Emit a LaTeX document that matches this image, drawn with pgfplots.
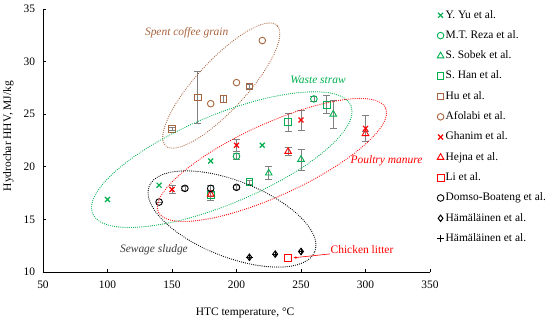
\documentclass[border=0pt]{standalone}
\usepackage{pgfplots}
\pgfplotsset{compat=1.18}
\usepackage{fontspec}
\setmainfont{Liberation Serif}
\usetikzlibrary{arrows.meta}
\definecolor{cgreen}{RGB}{0,176,80}
\definecolor{cbrown}{RGB}{168,100,60}
\definecolor{cred}{RGB}{255,0,0}
\definecolor{cgray}{RGB}{128,128,128}
\definecolor{cdark}{RGB}{60,60,60}
\pgfplotsset{
  leg/.style={legend image code/.code={\draw[##1] plot coordinates {(0bp,0bp)};}},
  eb/.style={error bars/.cd, y dir=both, y explicit, error mark=|,
    error bar style={cgray, line width=0.8bp, solid},
    error mark options={cgray, mark size=3.5bp, line width=0.8bp, solid}},
}
\tikzset{ell/.style={line width=1.2bp, line cap=round, dash pattern=on 0bp off 2.1bp}}
\begin{document}
\begin{tikzpicture}
\useasboundingbox (-43bp,-60bp) rectangle (507bp,272bp);
\begin{axis}[
  at={(0,0)}, anchor=south west,
  scale only axis, width=387bp, height=263bp,
  xmin=50, xmax=350, ymin=10, ymax=35,
  xtick={50,100,...,350}, ytick={10,15,...,35},
  axis x line*=bottom, axis y line*=left,
  tick align=inside, major tick length=3bp,
  axis line style={line width=0.8bp},
  tick style={line width=0.8bp, black},
  font=\fontsize{11.5}{13}\selectfont,
  /pgf/number format/assume math mode=true,
  xticklabel style={yshift=-5.6bp},
  yticklabel style={xshift=-4.5bp},
  xlabel={HTC temperature, °C},
  ylabel={Hydrochar HHV, MJ/kg},
  xlabel style={at={(axis description cs:0.522,-0.157)}, anchor=center},
  ylabel style={at={(axis description cs:-0.0897,0.517)}, anchor=center},
  clip=false,
  legend cell align=left,
  legend style={draw=none, fill=none, inner sep=0pt, outer sep=0pt,
    at={(axis description cs:1.018,0.996)}, anchor=north west,
    row sep=9.8bp, column sep=1.5bp,
    nodes={inner sep=0pt, text height=8bp, text depth=2.5bp},
    font=\fontsize{11.5}{13}\selectfont},
]
% Y. Yu
\addplot[only marks, leg, mark=x, mark size=3.5bp, cgreen, line width=1.2bp]
  coordinates {(100,16.9) (140,18.25) (180,20.55) (220,22.05)};
\addlegendentry{Y. Yu et al.}
% M.T. Reza
\addplot[only marks, leg, mark=o, mark size=3.3bp, cgreen, line width=0.9bp, eb]
  coordinates {(200,21.0) +- (0,0.3) (260,26.45) +- (0,0.2)};
\addlegendentry{M.T. Reza et al.}
% S. Sobek
\addplot[only marks, leg, mark=triangle, mark size=3.8bp, cgreen, line width=0.9bp, eb]
  coordinates {(225,19.4) +- (0,0.6) (250,20.7) +- (0,1.0) (275,25.0) +- (0,1.35)};
\addlegendentry{S. Sobek et al.}
% S. Han
\addplot[only marks, leg, mark=square, mark size=3.3bp, cgreen, line width=0.9bp, eb]
  coordinates {(180,17.3) +- (0,0.5) (210,18.55) +- (0,0.2) (240,24.25) +- (0,0.85) (270,25.9) +- (0,0.85)};
\addlegendentry{S. Han et al.}
% Hu
\addplot[only marks, leg, mark=square, mark size=3.3bp, cbrown, line width=0.9bp, eb]
  coordinates {(150,23.6) +- (0,0.15) (170,26.6) +- (0,2.5) (190,26.45) +- (0,0.3) (210,27.65) +- (0,0.2)};
\addlegendentry{Hu et al.}
% Afolabi
\addplot[only marks, leg, mark=o, mark size=3.3bp, cbrown, line width=0.9bp]
  coordinates {(180,26.0) (200,28.0) (220,32.0)};
\addlegendentry{Afolabi et al.}
% Ghanim
\addplot[only marks, leg, mark=x, mark size=3.5bp, cred, line width=1.2bp, eb]
  coordinates {(150,17.85) +- (0,0.35) (200,22.05) +- (0,0.55) (250,24.45) +- (0,0.95) (300,23.65) +- (0,1.25)};
\addlegendentry{Ghanim et al.}
% Hejna
\addplot[only marks, leg, mark=triangle, mark size=3.8bp, cred, line width=0.9bp, eb]
  coordinates {(180,17.4) +- (0,0.2) (240,21.45) +- (0,0.35) (300,23.15) +- (0,0.2)};
\addlegendentry{Hejna et al.}
% Li
\addplot[only marks, leg, mark=square, mark size=3.6bp, cred, line width=0.9bp]
  coordinates {(240,11.35)};
\addlegendentry{Li et al.}
% Domso-Boateng
\addplot[only marks, leg, mark=o, mark size=3.3bp, black, line width=0.9bp, eb]
  coordinates {(140,16.65) +- (0,0) (160,17.95) +- (0,0.2) (180,17.95) +- (0,0.25) (200,18.05) +- (0,0.2)};
\addlegendentry{Domso-Boateng et al.}
% Hamalainen diamond
\addplot[only marks, leg, mark=diamond, mark size=3.2bp, black, line width=1bp]
  coordinates {(210,11.4) (230,11.7) (250,11.95)};
\addlegendentry{Hämäläinen et al.}
% Hamalainen plus
\addplot[only marks, leg, mark=+, mark size=3.2bp, black, line width=1bp]
  coordinates {(210,11.4) (230,11.7) (250,11.95)};
\addlegendentry{Hämäläinen et al.}

\coordinate (cc) at (axis cs:188.2,27.72);
\coordinate (cw) at (axis cs:188.6,20.68);
\coordinate (cp) at (axis cs:227.5,20.65);
\coordinate (cs) at (axis cs:196.5,15.04);

\node[cbrown, font=\itshape\fontsize{11.5}{13}\selectfont] at (axis cs:161.4,32.78) {Spent coffee grain};
\node[cgreen, font=\itshape\fontsize{11.5}{13}\selectfont] at (axis cs:263.2,28.25) {Waste straw};
\node[cred, font=\itshape\fontsize{11.5}{13}\selectfont] at (axis cs:316.3,20.58) {Poultry manure};
\node[cdark, font=\itshape\fontsize{11.5}{13}\selectfont] at (axis cs:136.0,12.16) {Sewage sludge};
\node[cred, font=\fontsize{11.5}{13}\selectfont] at (axis cs:297.3,12.09) {Chicken litter};
\draw[cred, line width=0.6bp, -{Stealth[length=3bp,width=2.5bp]}] (axis cs:272.5,11.72) -- (axis cs:244.2,11.35);
\end{axis}
\begin{scope}[shift={(cc)}, rotate=47.3]
  \draw[cbrown, ell] (0,0) ellipse [x radius=82bp, y radius=25bp];
\end{scope}
\begin{scope}[shift={(cw)}, rotate=22.7]
  \draw[cgreen, ell] (0,0) ellipse [x radius=140bp, y radius=44.5bp];
\end{scope}
\begin{scope}[shift={(cp)}, rotate=24.6]
  \draw[cred, ell] (0,0) ellipse [x radius=125bp, y radius=36bp];
\end{scope}
\begin{scope}[shift={(cs)}, rotate=-21.5]
  \draw[black, ell] (0,0) ellipse [x radius=89bp, y radius=38bp];
\end{scope}
\end{tikzpicture}
\end{document}
